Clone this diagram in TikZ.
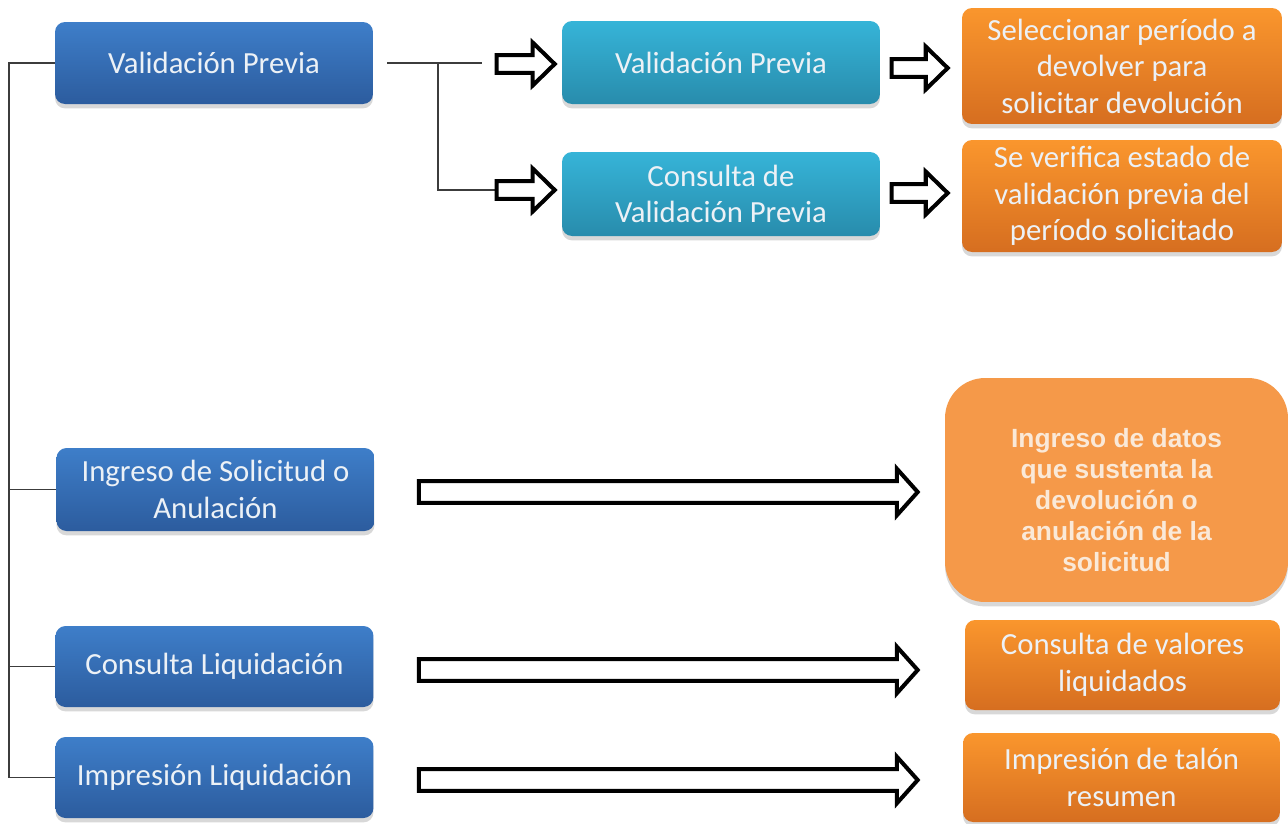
\documentclass[tikz,border=0pt]{standalone}
\usepackage{fontspec}
\setmainfont{Carlito}
\newfontfamily\arialfont{Liberation Sans}
\usetikzlibrary{calc,shadows}
\definecolor{blueT}{RGB}{62,126,201}
\definecolor{blueB}{RGB}{44,92,158}
\definecolor{cyanT}{RGB}{54,180,216}
\definecolor{cyanB}{RGB}{40,140,172}
\definecolor{orT}{RGB}{250,150,45}
\definecolor{orB}{RGB}{214,110,32}
\definecolor{orBig}{RGB}{245,153,73}
\definecolor{txtc}{RGB}{236,241,246}
\definecolor{txtbig}{RGB}{250,233,216}
\definecolor{linec}{RGB}{60,60,60}
\tikzset{
  box/.style={rounded corners=0.2cm, inner sep=0pt, align=center, text=txtc,
    font=\fontsize{17.5}{20.8}\selectfont,
    drop shadow={opacity=0.3, shadow xshift=0pt, shadow yshift=-2.5pt}},
  bluebox/.style={box, top color=blueT, bottom color=blueB, minimum width=6.36cm, minimum height=1.64cm},
  cyanbox/.style={box, top color=cyanT, bottom color=cyanB, minimum width=6.36cm, minimum height=1.66cm},
  orbox/.style={box, top color=orT, bottom color=orB, minimum width=6.4cm},
  bigbox/.style={rounded corners=0.8cm, inner sep=0pt, align=center, fill=orBig, text=txtbig,
    font=\arialfont\bfseries\fontsize{15}{17.6}\selectfont,
    drop shadow={opacity=0.3, shadow xshift=0pt, shadow yshift=-2.5pt},
    minimum width=6.86cm, minimum height=4.48cm},
  link/.style={draw=linec, line width=1pt},
  blockarrow/.style={draw=black, fill=white, line width=2.3pt, line join=miter}
}
% #1 start, #2 end (x only), #3 shaft half width, #4 head half width, #5 head length
\newcommand\blockarr[5]{%
  \draw[blockarrow] let \p1=#1, \p2=#2 in
    (\x1,\y1+#3) -- (\x2-#5,\y1+#3) -- (\x2-#5,\y1+#4) -- (\x2,\y1)
    -- (\x2-#5,\y1-#4) -- (\x2-#5,\y1-#3) -- (\x1,\y1-#3) -- cycle;}
\begin{document}
\begin{tikzpicture}[x=0.02cm,y=-0.02cm]
\useasboundingbox[fill=white] (0,0) rectangle (1288,823);
% left column
\node[bluebox] (bVP) at (214,63) {Validación Previa};
\node[bluebox, minimum height=1.66cm] (bIng) at (215.5,489.5) {Ingreso de Solicitud o\\Anulación};
\node[bluebox, minimum height=1.62cm] (bCon) at (214.5,666.5) {Consulta Liquidación};
\node[bluebox, minimum height=1.62cm] (bImp) at (214.5,777.5) {Impresión Liquidación};
% middle column
\node[cyanbox] (cVP) at (721,62.5) {Validación Previa};
\node[cyanbox, minimum height=1.68cm] (cCon) at (721,194) {Consulta de\\Validación Previa};
% right column
\node[orbox, minimum height=2.32cm] (o1) at (1122,66) {Seleccionar período a\\devolver para\\solicitar devolución};
\node[orbox, minimum height=2.24cm] (o2) at (1122,196) {Se verifica estado de\\validación previa del\\período solicitado};
\node[bigbox] (oBig) at (1116.5,490) {\raisebox{-0.39cm}[0pt][0pt]{\begin{tabular}{@{}c@{}}Ingreso de datos\\que sustenta la\\devolución o\\anulación de la\\solicitud\end{tabular}}};
\node[orbox, minimum width=6.3cm, minimum height=1.8cm] (o3) at (1122.5,665) {Consulta de valores\\liquidados};
\node[orbox, minimum width=6.34cm, minimum height=1.78cm] (o4) at (1121.5,777.5) {Impresión de talón\\resumen};
% tree connectors
\draw[link] (bVP.west) -- ($(bVP.west)+(-46,0)$) coordinate (t0) |- (bImp.west);
\draw[link] (bIng.west) -- (bIng.west -| t0);
\draw[link] (bCon.west) -- (bCon.west -| t0);
\draw[link] ($(bVP.east)+(14,0)$) -- ($(bVP.east)+(109,0)$);
\draw[link] ($(bVP.east)+(65,0)$) |- ($(cCon.west)+(-67,-4)$);
% small arrows
\blockarr{($(cVP.west)+(-65,1.5)$)}{($(cVP.west)+(-7,1.5)$)}{5.1pt}{12.2pt}{12.5pt}
\blockarr{($(cCon.west)+(-65,-4)$)}{($(cCon.west)+(-7,-4)$)}{5.1pt}{12.2pt}{12.5pt}
\blockarr{($(o1.west)+(-70,2)$)}{($(o1.west)+(-14,2)$)}{5.1pt}{12.2pt}{12.5pt}
\blockarr{($(o2.west)+(-70,-3)$)}{($(o2.west)+(-14,-3)$)}{5.1pt}{12.2pt}{12.5pt}
% long arrows
\blockarr{($(bIng.east)+(44,2.5)$)}{($(oBig.west)+(-27,0)$)}{6.2pt}{13.3pt}{11.9pt}
\blockarr{($(bCon.east)+(45,3.5)$)}{($(o3.west)+(-47,0)$)}{6.2pt}{13.3pt}{11.9pt}
\blockarr{($(bImp.east)+(45,2.5)$)}{($(o4.west)+(-45,0)$)}{6.2pt}{13.3pt}{11.9pt}
\end{tikzpicture}
\end{document}
